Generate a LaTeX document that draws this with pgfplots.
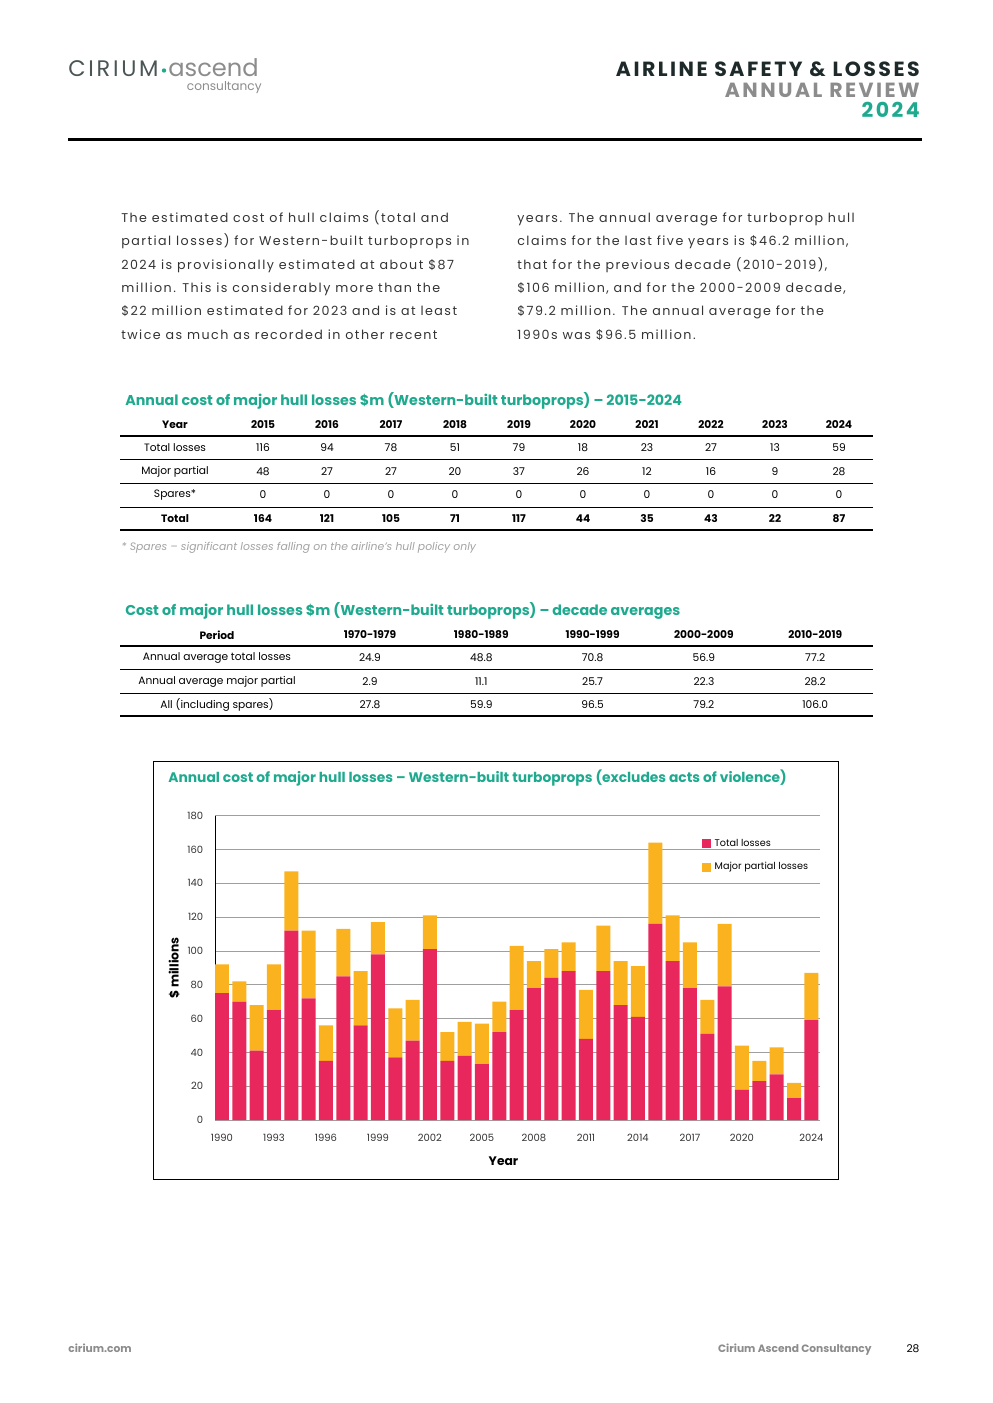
\documentclass[border=0pt]{standalone}
\usepackage{fontspec}
\setmainfont{Poppins}
\usepackage{pgfplots}
\pgfplotsset{compat=1.18}
\usepackage{pgfplotstable}

\definecolor{teal}{HTML}{1FAA8F}
\definecolor{darkhead}{HTML}{1E2A2A}
\definecolor{midgray}{HTML}{8C8C8C}
\definecolor{bodytext}{HTML}{333333}
\definecolor{barred}{HTML}{E8285C}
\definecolor{baryellow}{HTML}{FBB21F}

% year, total losses, major partial losses ($m)
\pgfplotstableread{
year total partial
1990 75 17
1991 70 12
1992 41 27
1993 65 27
1994 112 35
1995 72 40
1996 35 21
1997 85 28
1998 56 32
1999 98 19
2000 37 29
2001 47 24
2002 101 20
2003 35 17
2004 38 20
2005 33 24
2006 52 18
2007 65 38
2008 78 16
2009 84 17
2010 88 17
2011 48 29
2012 88 27
2013 68 26
2014 61 30
2015 116 48
2016 94 27
2017 78 27
2018 51 20
2019 79 37
2020 18 26
2021 23 12
2022 27 16
2023 13 9
2024 59 28
}\losses

\begin{document}
\begin{tikzpicture}
\begin{scope}[x=0.6pt,y=-0.6pt]
\fill[white] (0,0) rectangle (992,1403);

% logo
\node[anchor=base west, font=\fontsize{13.5}{13.5}\selectfont\addfontfeature{LetterSpace=12}, text=darkhead!80, inner sep=0] at (68,77) {CIRIUM};
\fill[teal] (164,70.5) circle (2.2);
\node[anchor=base west, font=\fontsize{14.5}{14.5}\selectfont, text=midgray, inner sep=0] at (168,77) {ascend};
\node[anchor=base east, font=\fontsize{7.3}{7.3}\selectfont, text=midgray, inner sep=0] at (262,91) {consultancy};

% header
\begin{scope}[every node/.style={anchor=base east, inner sep=0, font=\fontsize{12.3}{12.3}\bfseries\addfontfeature{LetterSpace=12}}]
\node[text=darkhead] at (920,77) {AIRLINE SAFETY \& LOSSES};
\node[text=midgray] at (920,98) {ANNUAL REVIEW};
\node[text=teal] at (920,118) {2024};
\end{scope}
\draw[line width=1.8pt, black] (68,140) -- (922,140);

% body text
\begin{scope}[every node/.style={anchor=base west, inner sep=0, text=bodytext, font=\fontsize{7.6}{7.6}\selectfont\addfontfeature{LetterSpace=11.5}}]
\node at (121,223) {The estimated cost of hull claims (total and};
\node at (121,246) {partial losses) for Western-built turboprops in};
\node at (121,269.5) {2024 is provisionally estimated at about \$87};
\node at (121,293) {million. This is considerably more than the};
\node at (121,316) {\$22 million estimated for 2023 and is at least};
\node at (121,340) {twice as much as recorded in other recent};
\node at (517,223) {years. The annual average for turboprop hull};
\node at (517,246) {claims for the last five years is \$46.2 million,};
\node at (517,269.5) {that for the previous decade (2010-2019),};
\node at (517,293) {\$106 million, and for the 2000-2009 decade,};
\node at (517,316) {\$79.2 million. The annual average for the};
\node at (517,340) {1990s was \$96.5 million.};
\end{scope}

% table 1
\node[anchor=base west, inner sep=0, text=teal, font=\fontsize{8.55}{8.55}\bfseries] at (125,405) {Annual cost of major hull losses \$m (Western-built turboprops) – 2015-2024};
\begin{scope}[every node/.style={inner sep=0, text=black, font=\fontsize{6.4}{6.4}\selectfont}]
\node[font=\fontsize{6.4}{6.4}\bfseries] at (175,425) {Year};
\foreach \y [count=\i from 0] in {2015,2016,2017,2018,2019,2020,2021,2022,2023,2024}
  \node[font=\fontsize{6.4}{6.4}\bfseries] at (263+64*\i,425) {\y};
\node at (175,448) {Total losses};
\foreach \v [count=\i from 0] in {116,94,78,51,79,18,23,27,13,59}
  \node at (263+64*\i,448) {\v};
\node at (175,472) {Major partial};
\foreach \v [count=\i from 0] in {48,27,27,20,37,26,12,16,9,28}
  \node at (263+64*\i,472) {\v};
\node at (175,495) {Spares*};
\foreach \i in {0,...,9}
  \node at (263+64*\i,495) {0};
\node[font=\fontsize{6.4}{6.4}\bfseries] at (175,519) {Total};
\foreach \v [count=\i from 0] in {164,121,105,71,117,44,35,43,22,87}
  \node[font=\fontsize{6.4}{6.4}\bfseries] at (263+64*\i,519) {\v};
\end{scope}
\draw[line width=0.7pt] (120,436) -- (873,436);
\foreach \yy in {459,483,507} \draw[line width=0.45pt] (120,\yy) -- (873,\yy);
\draw[line width=0.7pt] (120,530) -- (873,530);
\node[anchor=base west, inner sep=0, text=midgray!80, font=\fontsize{6.5}{6.5}\itshape] at (121,550) {* Spares – significant losses falling on the airline’s hull policy only};

% table 2
\node[anchor=base west, inner sep=0, text=teal, font=\fontsize{8.55}{8.55}\bfseries] at (125,615) {Cost of major hull losses \$m (Western-built turboprops) – decade averages};
\begin{scope}[every node/.style={inner sep=0, text=black, font=\fontsize{6.4}{6.4}\selectfont}]
\node[font=\fontsize{6.4}{6.4}\bfseries] at (217,635) {Period};
\foreach \p [count=\i from 0] in {1970-1979,1980-1989,1990-1999,2000-2009,2010-2019}
  \node[font=\fontsize{6.4}{6.4}\bfseries] at (370+111.3*\i,635) {\p};
\node at (217,658) {Annual average total losses};
\foreach \v [count=\i from 0] in {24.9,48.8,70.8,56.9,77.2}
  \node at (370+111.3*\i,658) {\v};
\node at (217,682) {Annual average major partial};
\foreach \v [count=\i from 0] in {2.9,11.1,25.7,22.3,28.2}
  \node at (370+111.3*\i,682) {\v};
\node at (217,705) {All (including spares)};
\foreach \v [count=\i from 0] in {27.8,59.9,96.5,79.2,106.0}
  \node at (370+111.3*\i,705) {\v};
\end{scope}
\draw[line width=0.7pt] (120,646) -- (873,646);
\foreach \yy in {669,693} \draw[line width=0.45pt] (120,\yy) -- (873,\yy);
\draw[line width=0.7pt] (120,716) -- (873,716);

% chart frame and title
\draw[line width=0.6pt] (153,761) rectangle (838,1179);
\node[anchor=base west, inner sep=0, text=teal, font=\fontsize{8.3}{8.3}\bfseries] at (168,782) {Annual cost of major hull losses – Western-built turboprops (excludes acts of violence)};

% footer
\node[anchor=base west, inner sep=0, text=midgray, font=\fontsize{6.4}{6.4}\bfseries] at (68,1352) {cirium.com};
\node[anchor=base east, inner sep=0, text=midgray, font=\fontsize{6.4}{6.4}\bfseries] at (872,1352) {Cirium Ascend Consultancy};
\node[anchor=base, inner sep=0, text=black, font=\fontsize{6.4}{6.4}\selectfont] at (913,1352) {28};
\end{scope}

\begin{axis}[
    at={(129pt,-672pt)}, anchor=south west,
    scale only axis,
    width=363pt, height=182.6pt,
    ybar stacked,
    bar width=8.4pt,
    xmin=1989.6, xmax=2024.5,
    ymin=0, ymax=180,
    ytick={0,20,...,180},
    xtick={1990,1993,1996,1999,2002,2005,2008,2011,2014,2017,2020,2024},
    x tick label style={/pgf/number format/1000 sep={}},
    /pgf/number format/assume math mode=true,
    tick label style={font=\fontsize{6}{6}\selectfont, text=bodytext},
    major tick length=0pt,
    xticklabel style={yshift=-5pt},
    yticklabel style={xshift=-3.5pt},
    axis x line*=bottom,
    axis y line*=left,
    x axis line style={draw=none},
    y axis line style={line width=0.6pt, black},
    ymajorgrids,
    grid style={gray!75, line width=0.45pt},
    ylabel={\$ millions},
    xlabel={Year},
    label style={font=\fontsize{7.4}{7.4}\bfseries},
    ylabel style={yshift=-2.2pt},
    xlabel style={yshift=-2pt, xshift=-8.4pt},
    legend style={at={(0.805,0.935)}, anchor=north west, draw=none, fill=none,
      font=\fontsize{5.8}{5.8}\selectfont, row sep=4pt, inner sep=0pt},
    legend cell align=left,
    legend image code/.code={\fill[#1] (-1.2pt,-2.7pt) rectangle (4.2pt,2.7pt);},
]
\addplot[fill=barred, draw=none] table[x=year, y=total] {\losses};
\addlegendentry{Total losses}
\addplot[fill=baryellow, draw=none] table[x=year, y=partial] {\losses};
\addlegendentry{Major partial losses}
\end{axis}
\end{tikzpicture}
\end{document}
